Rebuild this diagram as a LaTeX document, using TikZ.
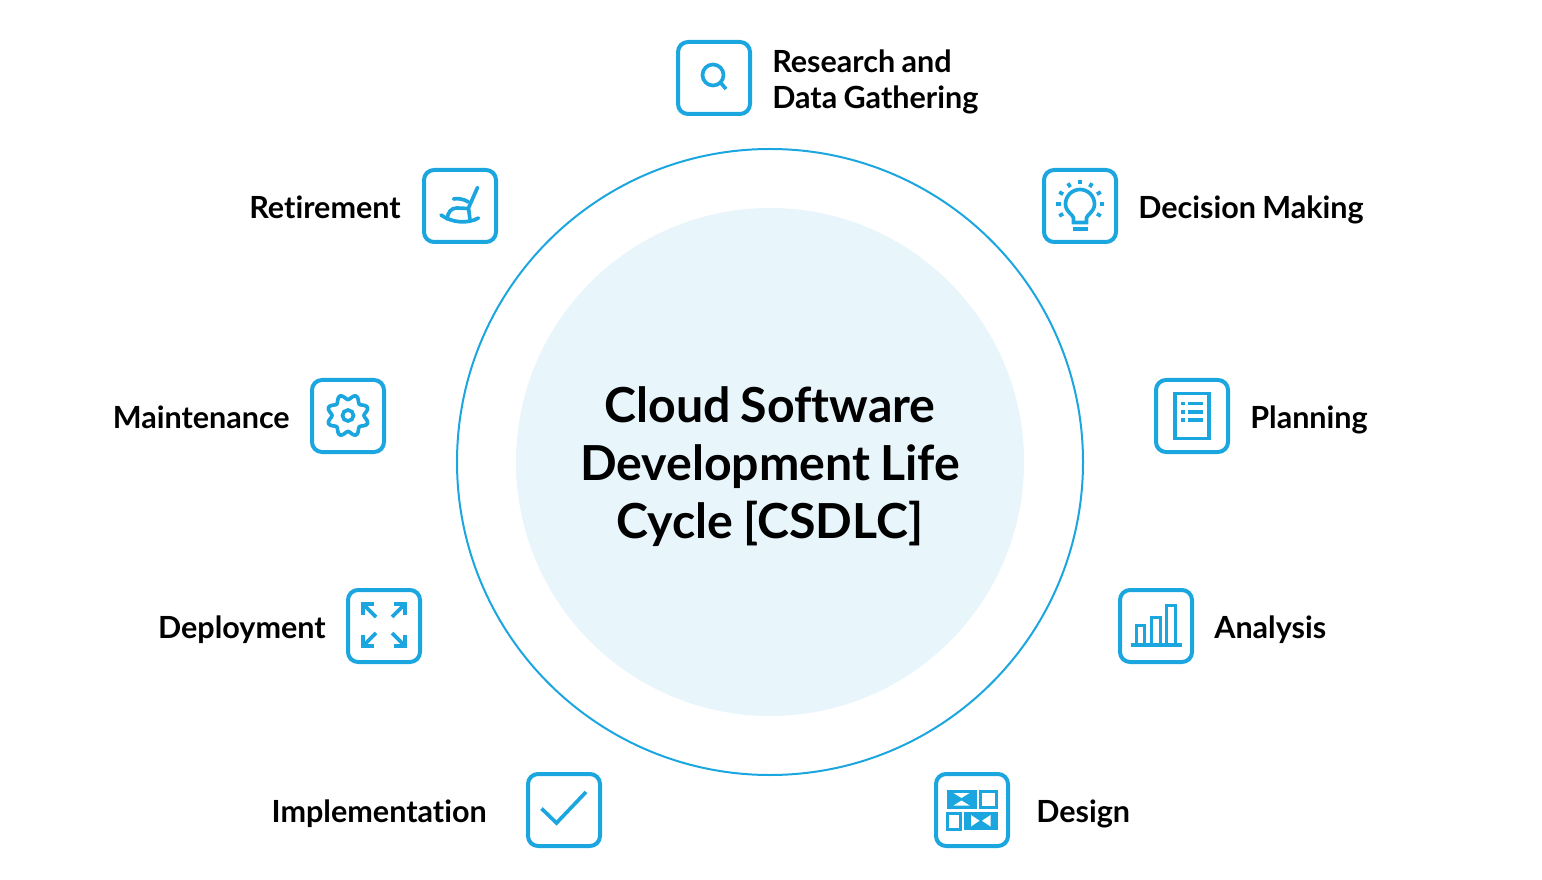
\documentclass[tikz,border=0pt]{standalone}
\usepackage{fontspec}
\setmainfont[Ligatures=NoCommon,WordSpace=0.85]{Lato}
\definecolor{cyclebl}{HTML}{1BA6DF}
\definecolor{cyclepale}{HTML}{E8F5FB}
\tikzset{
  iconbox/.style={draw=cyclebl,line width=3pt,rounded corners=7.5pt,minimum size=54pt,inner sep=0pt},
  icon/.style={draw=cyclebl,line width=2.75pt},
  thinicon/.style={draw=cyclebl,line width=2.25pt},
  steplabel/.style={font=\fontsize{22.9}{27}\selectfont\bfseries,text=black,align=left,inner sep=0pt},
}
\begin{document}
\begin{tikzpicture}[x=0.75pt,y=-0.75pt]
\useasboundingbox (0,0) rectangle (1542,880);

\fill[color=cyclepale] (770,462) circle (254);
\draw[color=cyclebl,line width=1.5pt] (770,462) circle (313);
\node[font=\fontsize{36.2}{43.5}\selectfont\bfseries,align=center,inner sep=0pt] (title) at (770,467) {Cloud Software\\Development Life\\Cycle [CSDLC]};

\node[iconbox] (research) at (714,78) {};
\node[iconbox] (decision) at (1080,206) {};
\node[iconbox] (planning) at (1192,416) {};
\node[iconbox] (analysis) at (1156,626) {};
\node[iconbox] (design) at (972,810) {};
\node[iconbox] (implementation) at (564,810) {};
\node[iconbox] (deployment) at (384,626) {};
\node[iconbox] (maintenance) at (348,416) {};
\node[iconbox] (retirement) at (460,206) {};

\node[steplabel,anchor=base west] (researchtext) at (772,109) {Research and\\Data Gathering};
\node[steplabel,anchor=base west] (decisiontext) at (1138,218.5) {Decision Making};
\node[steplabel,anchor=base west] (planningtext) at (1250,428) {Planning};
\node[steplabel,anchor=base west] (analysistext) at (1214,638) {Analysis};
\node[steplabel,anchor=base west] (designtext) at (1036,822) {Design};
\node[steplabel,anchor=base east] (implementationtext) at (487,822) {Implementation};
\node[steplabel,anchor=base east] (deploymenttext) at (326,638) {Deployment};
\node[steplabel,anchor=base east] (maintenancetext) at (290,428) {Maintenance};
\node[steplabel,anchor=base east] (retirementtext) at (401,218.5) {Retirement};

% search
\begin{scope}[shift={(714,78)}]
\draw[icon] (-1,-3) circle (10.5);
\draw[icon] (6.5,4.5) -- (12,11);
\end{scope}

% bulb
\begin{scope}[shift={(1080,206)}]
\draw[icon] (-6.5,16.5) -- (-6.5,12) .. controls (-6.5,9) and (-14.5,6) .. (-14.5,-2) arc (180:360:14.5) .. controls (14.5,6) and (6.5,9) .. (6.5,12) -- (6.5,16.5) -- cycle;
\draw[icon] (-7.5,23) -- (7.5,23);
\foreach \a in {-30,0,30,...,210}
  \draw[icon] ({19.5*cos(\a)},{-2-19.5*sin(\a)}) -- ({24*cos(\a)},{-2-24*sin(\a)});
\end{scope}

% list page
\begin{scope}[shift={(1192,416)}]
\draw[icon] (-17,-22.5) rectangle (17,22.5);
\foreach \y in {-12.5,-4,4} {
  \draw[icon] (-11,\y) -- (-7,\y);
  \draw[icon] (-4,\y) -- (10.5,\y);
}
\end{scope}

% bars
\begin{scope}[shift={(1156,626)}]
\draw[icon] (-25.5,19) -- (25.5,19);
\draw[thinicon] (-19.5,19) rectangle (-11.5,-1);
\draw[thinicon] (-4.5,19) rectangle (4,-9);
\draw[thinicon] (10.5,19) rectangle (19,-21);
\end{scope}

% wireframe
\begin{scope}[shift={(972,810)}]
\fill[color=cyclebl] (-25.5,-20) rectangle (4.5,-1.5);
\fill[color=cyclebl] (-8,1.5) rectangle (25.5,20);
\draw[thinicon] (8,-18.5) rectangle (24.5,-3);
\draw[thinicon] (-24.5,3) rectangle (-11.5,19);
\fill[white] (-18.5,-17) -- (-2.5,-17) -- (-10.5,-12) -- cycle;
\fill[white] (-18.5,-4.5) -- (-2.5,-4.5) -- (-10.5,-9.5) -- cycle;
\fill[white] (-1,5) -- (7.5,10.75) -- (-1,16.5) -- cycle;
\fill[white] (18.5,5) -- (10,10.75) -- (18.5,16.5) -- cycle;
\end{scope}

% check
\begin{scope}[shift={(564,810)}]
\draw[icon] (-22.5,-1.5) -- (-7.5,13) -- (22,-18);
\end{scope}

% arrows
\begin{scope}[shift={(384,626)}]
\foreach \sx/\sy in {-1/-1,1/-1,-1/1,1/1} {
  \draw[icon,line width=3.2pt] (\sx*21,-1+\sy*10) -- (\sx*21,-1+\sy*21) -- (\sx*10,-1+\sy*21);
  \draw[icon] (\sx*20,-1+\sy*20) -- (\sx*8,-1+\sy*8);
}
\end{scope}

% gear
\begin{scope}[shift={(348,416)}]
\draw[icon] (0,-0.5) circle (5.5);
\draw[icon,smooth,samples=97,domain=0:360] plot ({(18.5-2.5*cos(8*\x))*cos(\x)},{-0.5+(18.5-2.5*cos(8*\x))*sin(\x)}) -- cycle;
\end{scope}

% rocking chair
\begin{scope}[shift={(460,206)}]
\draw[icon,line cap=round] (-19,9) .. controls (-8,17) and (8,18) .. (18.5,12);
\draw[icon,line cap=round] (17.5,-18.5) -- (8.5,2) -- (10,14);
\draw[icon,line cap=round] (-6.5,-7) .. controls (-3,-8) and (4,-7) .. (8.5,-4);
\draw[icon,line cap=round] (-13,13) .. controls (-12,6) and (-9,2) .. (-3,2) -- (8,2.5);
\end{scope}
\end{tikzpicture}
\end{document}
